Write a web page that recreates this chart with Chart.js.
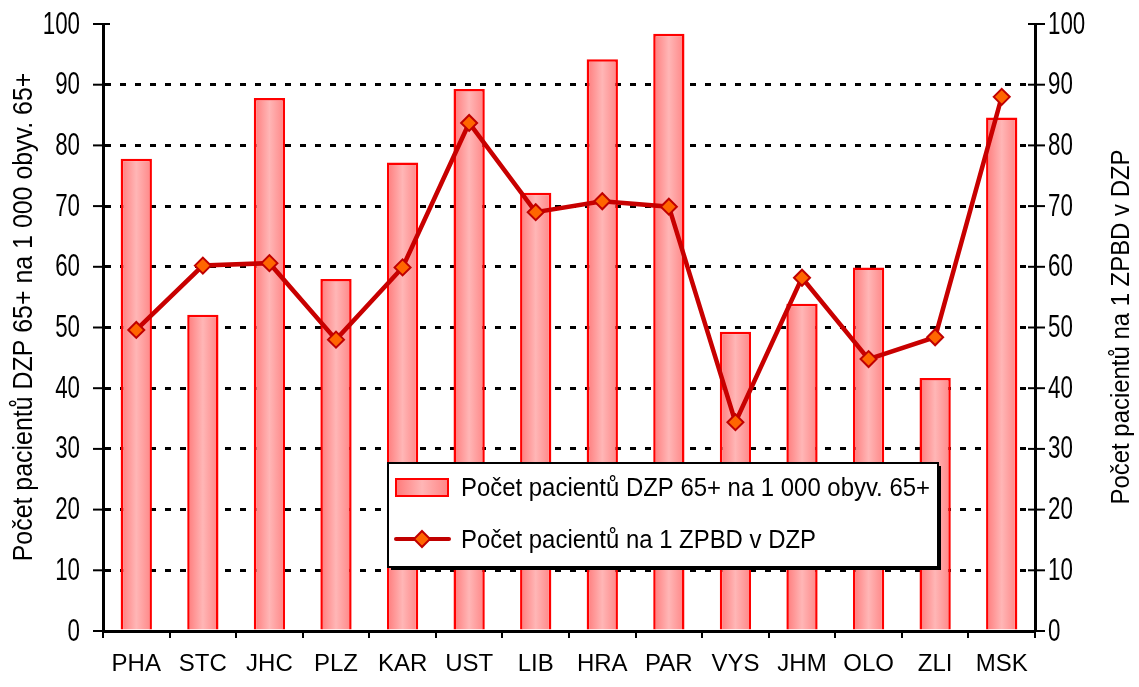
<!DOCTYPE html>
<html>
<head>
    <meta charset="utf-8" />
    <title>DZP - pacienti</title>
    <script src="https://cdn.jsdelivr.net/npm/chart.js@4.4.0/dist/chart.umd.min.js"></script>
    <style>
        body { margin: 0; background: #fff; }
        #graf { display: block; }
    </style>
</head>
<body>

<canvas id="graf" width="1139" height="687"></canvas>

<script>
    // kraje
    var kraje = ["PHA", "STC", "JHC", "PLZ", "KAR", "UST", "LIB", "HRA", "PAR", "VYS", "JHM", "OLO", "ZLI", "MSK"];
    // pocet pacientu DZP 65+ na 1 000 obyv. 65+ (sloupce)
    var pacientiNaObyv = [77.8, 52.1, 87.8, 58.0, 77.2, 89.3, 72.2, 94.2, 98.4, 49.3, 53.9, 59.9, 41.7, 84.6];
    // pocet pacientu na 1 ZPBD v DZP (cara)
    var pacientiNaZPBD = [49.6, 60.2, 60.6, 48.0, 59.9, 83.7, 69.0, 70.8, 69.9, 34.4, 58.2, 44.8, 48.4, 88.0];
    var osaTicky = [0, 10, 20, 30, 40, 50, 60, 70, 80, 90, 100];

    var popisSloupce = "Počet pacientů DZP 65+ na 1 000 obyv. 65+";
    var popisCara = "Počet pacientů na 1 ZPBD v DZP";
    var pismo = "'Liberation Sans', Arial, sans-serif";

    function gradientSloupce(ctx, x1, x2) {
        var g = ctx.createLinearGradient(x1, 0, x2, 0);
        g.addColorStop(0, "#ff7a7a");
        g.addColorStop(0.5, "#ffb6b6");
        g.addColorStop(1, "#ff8585");
        return g;
    }

    // text zuzeny vodorovne (jako v puvodnim obrazku)
    function napis(ctx, text, x, y, size, sx, rot, align, baseline) {
        ctx.save();
        ctx.translate(x, y);
        ctx.rotate(rot);
        ctx.scale(sx, 1);
        ctx.font = size + "px " + pismo;
        ctx.fillStyle = "#000";
        ctx.textAlign = align;
        ctx.textBaseline = baseline;
        ctx.fillText(text, 0, 0);
        ctx.restore();
    }

    // krizove ticky na osach, popisky os a legenda v ramecku
    var doplnky = {
        id: "doplnky",
        afterDatasetsDraw: function (chart) {
            var ctx = chart.ctx;
            var y = chart.scales.y, y2 = chart.scales.y2;
            ctx.save();
            ctx.strokeStyle = "#000";
            ctx.lineWidth = 2;
            osaTicky.forEach(function (v) {
                var py = y.getPixelForValue(v);
                ctx.beginPath();
                ctx.moveTo(y.right - 10, py); ctx.lineTo(y.right + 7, py);
                ctx.stroke();
                napis(ctx, String(v), 80, py + 1, 31, 0.72, 0, "right", "middle");
                var py2 = y2.getPixelForValue(v);
                ctx.beginPath();
                ctx.moveTo(y2.left - 7, py2); ctx.lineTo(y2.left + 10, py2);
                ctx.stroke();
                napis(ctx, String(v), 1048, py2 + 1, 31, 0.72, 0, "left", "middle");
            });
            ctx.restore();

            // nadpisy os (ctou se zdola nahoru)
            napis(ctx, popisSloupce, 32, 317, 28, 0.89, -Math.PI / 2, "center", "alphabetic");
            napis(ctx, popisCara, 1129, 327, 26, 0.92, -Math.PI / 2, "center", "alphabetic");

            // legenda
            ctx.save();
            var lx = 388, ly = 463, lw = 550, lh = 104;
            ctx.fillStyle = "#000";
            ctx.fillRect(lx + 3, ly + 3, lw, lh);
            ctx.fillStyle = "#fff";
            ctx.fillRect(lx, ly, lw, lh);
            ctx.strokeStyle = "#000";
            ctx.lineWidth = 2;
            ctx.strokeRect(lx, ly, lw, lh);

            ctx.fillStyle = gradientSloupce(ctx, 396, 448);
            ctx.fillRect(396, 479, 52, 17);
            ctx.strokeStyle = "#ff0000";
            ctx.lineWidth = 2;
            ctx.strokeRect(396, 479, 52, 17);

            ctx.strokeStyle = "#c00000";
            ctx.lineWidth = 4;
            ctx.lineCap = "round";
            ctx.beginPath();
            ctx.moveTo(396, 539); ctx.lineTo(449, 539);
            ctx.stroke();
            ctx.beginPath();
            ctx.moveTo(422, 531); ctx.lineTo(430, 539); ctx.lineTo(422, 547); ctx.lineTo(414, 539);
            ctx.closePath();
            ctx.fillStyle = "#ff6600";
            ctx.fill();
            ctx.lineWidth = 2;
            ctx.stroke();
            ctx.restore();

            napis(ctx, popisSloupce, 461, 496, 26, 0.92, 0, "left", "alphabetic");
            napis(ctx, popisCara, 461, 548, 26, 0.92, 0, "left", "alphabetic");
        }
    };

    var ctx = document.getElementById("graf").getContext("2d");
    var graf = new Chart(ctx, {
        data: {
            labels: kraje,
            datasets: [
                {
                    type: "line",
                    label: popisCara,
                    data: pacientiNaZPBD,
                    yAxisID: "y2",
                    order: 0,
                    borderColor: "#c80000",
                    borderWidth: 4.5,
                    tension: 0,
                    pointStyle: "rectRot",
                    pointRadius: 8,
                    pointBackgroundColor: "#ff6600",
                    pointBorderColor: "#c00000",
                    pointBorderWidth: 2
                },
                {
                    type: "bar",
                    label: popisSloupce,
                    data: pacientiNaObyv,
                    yAxisID: "y",
                    order: 1,
                    barPercentage: 0.47,
                    categoryPercentage: 1,
                    borderColor: "#ff0000",
                    borderWidth: 2.5,
                    backgroundColor: function (c) {
                        var chart = c.chart;
                        if (!chart.chartArea || c.dataIndex === undefined) return "#ff9a9a";
                        var x = chart.scales.x;
                        var cx = x.getPixelForValue(c.dataIndex);
                        var w = (chart.chartArea.width / kraje.length) * 0.47;
                        return gradientSloupce(chart.ctx, cx - w / 2, cx + w / 2);
                    }
                }
            ]
        },
        options: {
            responsive: false,
            animation: false,
            layout: { padding: { top: 24, right: 0, bottom: 0, left: 0 } },
            plugins: {
                legend: { display: false },
                tooltip: { enabled: false }
            },
            scales: {
                x: {
                    offset: true,
                    grid: {
                        offset: true,
                        drawOnChartArea: false,
                        color: "#000",
                        lineWidth: 2,
                        tickLength: 7
                    },
                    border: { color: "#000", width: 3 },
                    ticks: {
                        color: "#000",
                        font: { family: pismo, size: 24 },
                        padding: 12,
                        maxRotation: 0,
                        autoSkip: false
                    },
                    afterFit: function (s) { s.height = 56; }
                },
                y: {
                    position: "left",
                    min: 0,
                    max: 100,
                    afterBuildTicks: function (s) { s.ticks = osaTicky.map(function (v) { return { value: v }; }); },
                    grid: {
                        drawTicks: false,
                        lineWidth: 3,
                        color: function (c) {
                            return (c.tick && (c.tick.value === 0 || c.tick.value === 100)) ? "rgba(0,0,0,0)" : "#000";
                        }
                    },
                    border: { color: "#000", width: 3, dash: [6, 9] },
                    ticks: { display: false },
                    afterFit: function (s) { s.width = 103; }
                },
                y2: {
                    position: "right",
                    min: 0,
                    max: 100,
                    afterBuildTicks: function (s) { s.ticks = osaTicky.map(function (v) { return { value: v }; }); },
                    grid: { drawOnChartArea: false, drawTicks: false },
                    border: { color: "#000", width: 3 },
                    ticks: { display: false },
                    afterFit: function (s) { s.width = 104; }
                }
            }
        },
        plugins: [doplnky]
    });
</script>

</body>
</html>
